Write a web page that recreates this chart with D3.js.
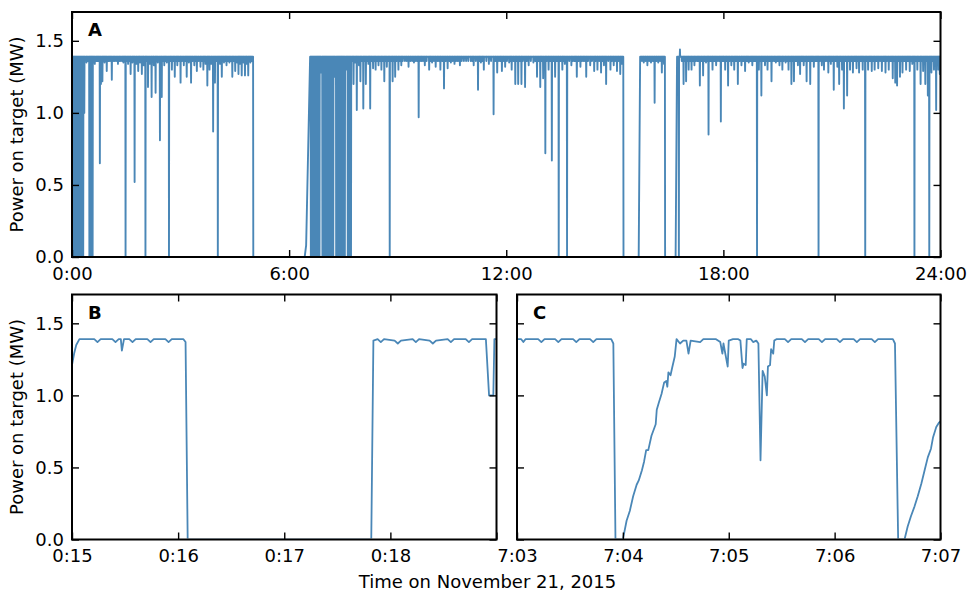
<!DOCTYPE html>
<html lang="en">
<head>
<meta charset="utf-8">
<title>Power on target</title>
<script src="https://cdn.jsdelivr.net/npm/d3@7"></script>
<style>
  body { margin: 0; background: #fff; }
  svg { display: block; font-family: "DejaVu Sans", sans-serif; }
</style>
</head>
<body>
<script>
// ---------- data ----------
// Panel A: whole day, time in hours. Power sits at levelA except for the dips
// and beam-off spans listed below.
var levelA = 1.39;
// [hour, lowest power (MW)]
var dipsA = [
  [0.01,0],[0.04,0],[0.07,0],[0.10,0],[0.13,0],[0.16,0],[0.19,0],[0.22,0],[0.25,0],[0.28,0],[0.31,0],
  [0.34,1.00],[0.40,1.35],[0.48,0],[0.51,0],[0.54,0],[0.57,0],[0.63,1.34],[0.70,1.36],[0.77,0.65],
  [0.80,1.20],[0.84,1.22],[0.90,1.35],[0.96,1.29],[1.03,1.36],[1.10,1.23],[1.18,1.36],[1.27,1.34],
  [1.35,1.36],[1.42,1.35],[1.48,0],[1.55,1.34],[1.62,1.27],[1.67,1.35],[1.73,0.52],[1.78,1.34],
  [1.83,1.29],[1.88,1.35],[1.93,1.27],[1.98,1.33],[2.03,0],[2.10,1.18],[2.15,1.34],[2.20,1.11],
  [2.26,1.33],[2.31,1.14],[2.37,1.35],[2.43,0.81],[2.48,1.11],[2.55,1.33],[2.62,1.35],[2.68,0],
  [2.76,1.30],[2.84,1.25],[2.91,1.33],[3.00,1.21],[3.09,1.33],[3.17,1.25],[3.23,1.35],[3.29,1.21],
  [3.38,1.33],[3.45,1.29],[3.55,1.32],[3.63,1.30],[3.69,1.34],[3.74,1.19],[3.80,1.30],[3.85,1.34],
  [3.90,0.87],[3.95,1.21],[4.03,0],[4.09,1.34],[4.14,1.25],[4.20,1.35],[4.27,1.33],[4.35,1.35],
  [4.43,1.25],[4.51,1.29],[4.56,1.35],[4.60,1.27],[4.65,1.34],[4.69,1.26],[4.74,1.35],[4.78,1.26],
  [4.83,1.34],[4.87,1.26],[4.93,1.35],[4.97,1.36],
  // restart around 6:35, many trips
  [6.60,0],[6.63,0],[6.66,0],[6.69,0],[6.72,0],[6.75,0],[6.78,0],[6.81,0],[6.84,0],[6.87,1.28],
  [6.92,0],[6.95,0],[6.98,0],[7.01,0],[7.04,0],[7.07,0],[7.10,0],[7.13,0],[7.16,0],[7.19,0],[7.22,0],
  [7.26,1.25],[7.30,0],[7.33,0],[7.36,0],[7.39,0],[7.42,0],[7.45,0],[7.48,0],[7.51,0],[7.54,0],
  [7.58,1.30],[7.62,0],[7.65,0],[7.68,0],[7.71,0],
  [7.78,1.20],[7.82,1.35],[7.87,1.02],[7.93,1.33],[7.97,1.22],[8.05,1.03],[8.12,1.20],[8.19,1.34],
  [8.24,1.03],[8.32,1.31],[8.39,1.30],[8.47,1.33],[8.55,1.30],[8.63,1.22],[8.70,1.32],[8.78,0],
  [8.86,1.22],[8.93,1.25],[9.02,1.30],[9.10,1.33],[9.20,1.36],[9.30,1.32],[9.45,1.35],[9.58,0.97],
  [9.66,1.36],[9.75,1.33],[9.87,1.30],[9.95,1.35],[10.05,1.32],[10.18,1.30],[10.28,1.17],[10.38,1.31],
  [10.47,1.35],[10.57,1.34],[10.65,1.36],[10.72,1.33],[10.83,1.36],[10.95,1.36],[11.10,1.33],
  [11.22,1.16],[11.30,1.35],[11.38,1.30],[11.52,1.34],[11.65,0.99],[11.75,1.28],[11.88,1.29],
  [11.97,1.32],[12.08,1.35],[12.15,1.30],[12.25,1.20],[12.33,1.20],[12.42,1.20],[12.52,1.18],
  [12.62,1.33],[12.75,1.35],[12.85,1.25],[12.94,1.18],[13.02,1.24],[13.08,0.72],[13.17,1.30],
  [13.26,0.67],[13.35,1.25],[13.45,0],[13.55,1.30],[13.62,1.34],[13.68,0],[13.80,1.33],[13.88,1.36],
  [13.95,1.25],[14.05,1.32],[14.13,1.36],[14.21,1.25],[14.32,1.33],[14.43,1.29],[14.52,1.30],
  [14.62,1.28],[14.70,1.33],[14.76,1.20],[14.88,1.30],[14.97,1.33],[15.06,1.29],[15.15,1.27],[15.20,1.34],
  [15.80,1.35],[15.90,1.33],[16.00,1.35],[16.10,1.07],[16.20,1.35],[16.30,1.28],[16.36,1.34],
  [16.77,0],[16.80,1.44],
  [16.90,1.20],[16.97,1.22],[17.04,1.30],[17.12,1.30],[17.20,1.33],[17.28,1.36],[17.35,1.19],
  [17.44,1.26],[17.52,1.35],[17.59,0.85],[17.70,1.30],[17.80,1.33],[17.93,0.94],[17.99,1.36],
  [18.05,1.30],[18.13,1.19],[18.22,1.33],[18.30,1.30],[18.40,1.20],[18.50,1.33],[18.60,1.29],
  [18.70,1.35],[18.80,1.33],[18.87,1.36],[18.93,0],[18.98,1.30],[19.05,1.12],[19.15,1.33],[19.22,1.30],
  [19.33,1.22],[19.45,1.35],[19.55,1.33],[19.63,1.30],[19.72,1.35],[19.80,1.30],[19.88,1.20],
  [19.95,1.22],[20.06,1.33],[20.12,1.27],[20.22,1.33],[20.30,1.22],[20.40,1.20],[20.50,1.32],
  [20.57,1.36],[20.63,0],[20.72,1.33],[20.78,1.30],[20.90,1.28],[20.97,1.34],[21.05,1.16],[21.15,1.32],
  [21.20,1.20],[21.28,1.30],[21.33,1.03],[21.42,1.12],[21.50,1.30],[21.58,1.28],[21.68,1.31],
  [21.75,1.28],[21.85,1.30],[21.92,0],[22.00,1.30],[22.10,1.29],[22.18,1.30],[22.28,1.31],
  [22.38,1.29],[22.48,1.28],[22.57,1.30],[22.68,1.24],[22.75,1.21],[22.80,1.19],[22.88,1.25],
  [22.95,1.28],[23.05,1.30],[23.15,1.29],[23.22,1.34],[23.28,0],[23.36,1.30],[23.45,1.20],
  [23.52,1.29],[23.58,1.20],[23.65,1.12],[23.69,0],[23.75,1.28],[23.82,1.30],[23.88,1.02],
  [23.94,1.30],[23.98,1.27]
];
// small ripples that make up the noisy band just under the running level
var rippleLevelA = 1.36;
var rippleHoursA = [
  0.44,0.60,0.67,0.73,0.87,0.93,1.00,1.07,1.14,1.22,1.31,1.39,1.45,1.52,1.58,1.70,1.86,1.96,2.06,
  2.24,2.34,2.52,2.58,2.72,2.80,2.88,2.95,3.04,3.13,3.20,3.26,3.33,3.42,3.50,3.59,3.66,3.77,3.98,
  4.06,4.17,4.24,4.31,4.39,4.47,4.63,4.72,4.81,4.90,
  7.75,7.85,7.90,8.00,8.09,8.15,8.22,8.28,8.36,8.43,8.51,8.59,8.67,8.74,8.82,8.90,8.97,9.06,9.14,
  9.25,9.35,9.40,9.50,9.54,9.62,9.70,9.80,9.91,10.00,10.10,10.14,10.23,10.33,10.43,10.52,10.61,
  10.69,10.77,10.89,11.02,11.06,11.16,11.26,11.34,11.45,11.58,11.70,11.80,11.84,11.92,12.02,12.12,
  12.20,12.29,12.37,12.46,12.57,12.68,12.80,12.90,12.98,13.12,13.21,13.30,13.40,13.50,13.59,13.74,
  13.84,13.91,14.00,14.09,14.17,14.26,14.37,14.47,14.57,14.66,14.73,14.82,14.92,15.01,15.10,
  15.75,15.85,15.95,16.05,16.15,16.25,16.33,
  16.85,16.93,17.00,17.08,17.16,17.24,17.31,17.39,17.48,17.56,17.63,17.66,17.74,17.77,17.85,17.89,
  17.96,18.01,18.09,18.17,18.26,18.34,18.37,18.45,18.54,18.57,18.64,18.67,18.74,18.77,18.84,18.90,
  19.01,19.09,19.12,19.18,19.26,19.29,19.37,19.41,19.49,19.52,19.59,19.67,19.76,19.84,19.92,20.00,
  20.03,20.09,20.16,20.19,20.26,20.34,20.37,20.44,20.47,20.54,20.60,20.67,20.75,20.82,20.86,20.93,
  21.00,21.09,21.12,21.24,21.37,21.46,21.54,21.62,21.65,21.72,21.79,21.82,21.88,21.96,22.04,22.07,
  22.14,22.22,22.25,22.33,22.42,22.45,22.52,22.61,22.64,22.71,22.84,22.91,22.99,23.02,23.09,23.12,
  23.18,23.25,23.32,23.40,23.48,23.55,23.62,23.72,23.79,23.85,23.91,23.96
];
// beam-off spans [start hour, end hour]
var offA = [[5.01, 6.43], [15.24, 15.66], [16.39, 16.68]];
// points on the way back up after a beam-off span
var riseA = [[6.47, 0.08], [6.58, 1.39], [15.70, 1.39], [16.72, 1.39]];

// Panel B: 0:15 - 0:19, minutes past 0:00
var timeB = [15.00,15.02,15.04,15.07,15.21,15.24,15.27,15.38,15.41,15.44,15.46,15.47,15.49,15.54,15.57,
  15.60,15.71,15.74,15.77,15.88,15.91,15.94,16.05,16.07,16.09,17.82,17.84,17.88,17.91,17.94,18.04,
  18.07,18.10,18.21,18.24,18.27,18.37,18.40,18.43,18.54,18.57,18.60,18.71,18.74,18.77,18.90,18.93,
  18.97,18.98,19.00];
var powerB = [1.21,1.29,1.35,1.39,1.39,1.37,1.39,1.39,1.37,1.39,1.39,1.31,1.39,1.39,1.37,
  1.39,1.39,1.37,1.39,1.39,1.37,1.39,1.39,1.37,0,0,1.38,1.39,1.37,1.39,1.38,
  1.36,1.38,1.39,1.37,1.39,1.38,1.36,1.38,1.39,1.37,1.39,1.39,1.37,1.39,1.39,1.00,
  1.00,1.39,1.39];

// Panel C: 7:03 - 7:07, minutes past 7:00
var timeC = [3.00,3.04,3.06,3.08,3.20,3.23,3.26,3.36,3.39,3.42,3.53,3.56,3.59,3.69,3.72,3.75,3.89,3.91,
  3.93,4.00,4.035,4.066,4.097,4.13,4.15,4.18,4.20,4.22,4.24,4.27,4.31,4.32,4.34,4.365,4.39,4.41,4.42,
  4.43,4.45,4.465,4.49,4.507,4.54,4.57,4.60,4.62,4.64,4.73,4.76,4.88,4.92,4.94,4.95,4.99,5.00,5.04,
  5.09,5.11,5.13,5.14,5.16,5.17,5.21,5.23,5.26,5.28,5.30,5.32,5.34,5.36,5.37,5.39,5.40,5.42,5.43,
  5.45,5.53,5.56,5.59,5.69,5.72,5.75,5.85,5.88,5.91,6.02,6.05,6.08,6.18,6.21,6.24,6.35,6.38,6.41,
  6.55,6.57,6.60,6.66,6.69,6.72,6.755,6.785,6.82,6.85,6.88,6.91,6.93,6.96,6.985,7.00];
var powerC = [1.39,1.39,1.37,1.39,1.39,1.37,1.39,1.39,1.37,1.39,1.39,1.37,1.39,1.39,1.37,1.39,1.39,1.36,
  0,0,0.13,0.20,0.30,0.38,0.41,0.48,0.54,0.62,0.62,0.72,0.80,0.90,0.95,1.01,1.09,1.10,1.06,
  1.16,1.14,1.19,1.27,1.39,1.36,1.38,1.38,1.29,1.38,1.37,1.39,1.39,1.37,1.29,1.36,1.20,1.38,1.39,
  1.39,1.38,1.19,1.22,1.21,1.39,1.39,1.37,1.38,1.36,0.55,1.17,1.13,1.00,1.20,1.21,1.32,1.29,1.38,
  1.39,1.39,1.37,1.39,1.39,1.37,1.39,1.39,1.37,1.39,1.39,1.37,1.39,1.39,1.37,1.39,1.39,1.37,1.39,
  1.39,1.36,0,0,0.09,0.16,0.23,0.30,0.39,0.48,0.57,0.63,0.71,0.78,0.81,0.82];

var yTicks = [0, 0.5, 1.0, 1.5];
var yTickLabels = ["0.0", "0.5", "1.0", "1.5"];
var xTicksA = [0, 6, 12, 18, 24];
var xLabelsA = ["0:00", "6:00", "12:00", "18:00", "24:00"];
var xTicksB = [15, 16, 17, 18, 19];
var xLabelsB = ["0:15", "0:16", "0:17", "0:18", ""];
var xTicksC = [3, 4, 5, 6, 7];
var xLabelsC = ["7:03", "7:04", "7:05", "7:06", "7:07"];

// ---------- build panel A trace from level, dips and off spans ----------
var pointsA = [];
var eps = 0.006;
var allDipsA = dipsA.concat(rippleHoursA.map(function(h) { return [h, rippleLevelA]; }));
allDipsA.forEach(function(d) {
  pointsA.push([d[0] - eps, levelA], d, [d[0] + eps, levelA]);
});
offA.forEach(function(o) {
  pointsA.push([o[0] - eps, levelA], [o[0], 0], [o[1], 0]);
});
riseA.forEach(function(r) { pointsA.push(r); });
pointsA.push([0, levelA], [24, levelA]);
pointsA.sort(function(a, b) { return a[0] - b[0]; });

var pointsB = timeB.map(function(t, i) { return [t, powerB[i]]; });
var pointsC = timeC.map(function(t, i) { return [t, powerC[i]]; });

// ---------- drawing ----------
var lineColor = "#4a87b7";
var fontSize = 18;
var svg = d3.select("body").append("svg").attr("width", 975).attr("height", 600);

function drawPanel(p) {
  var x = d3.scaleLinear().domain(p.xDomain).range([p.left, p.right]);
  var y = d3.scaleLinear().domain([0, 1.7]).range([p.bottom, p.top]);

  // clip a hair above the bottom spine so the zero stretches hide under it
  svg.append("clipPath").attr("id", "clip" + p.name)
    .append("rect")
    .attr("x", p.left).attr("y", p.top)
    .attr("width", p.right - p.left).attr("height", p.bottom - p.top - 1);

  svg.append("path").datum(p.points)
    .attr("clip-path", "url(#clip" + p.name + ")")
    .attr("fill", "none")
    .attr("stroke", lineColor)
    .attr("stroke-width", p.lineWidth)
    .attr("stroke-linejoin", "round")
    .attr("d", d3.line().x(function(d) { return x(d[0]); }).y(function(d) { return y(d[1]); }));

  // ticks point inwards on all four sides
  var axes = [
    { gen: d3.axisBottom(x).tickValues(p.xTicks).tickFormat(function(d, i) { return p.xLabels[i]; }).tickPadding(10), t: "translate(0," + p.bottom + ")" },
    { gen: d3.axisTop(x).tickValues(p.xTicks).tickFormat(""), t: "translate(0," + p.top + ")" },
    { gen: d3.axisLeft(y).tickValues(yTicks).tickFormat(function(d, i) { return p.yLabels ? yTickLabels[i] : ""; }).tickPadding(8), t: "translate(" + p.left + ",0)" },
    { gen: d3.axisRight(y).tickValues(yTicks).tickFormat(""), t: "translate(" + p.right + ",0)" }
  ];
  axes.forEach(function(a) {
    var g = svg.append("g").attr("transform", a.t)
      .call(a.gen.tickSize(-7).tickSizeOuter(0));
    g.select(".domain").remove();
    g.attr("font-size", fontSize).attr("font-family", "DejaVu Sans, sans-serif");
    g.selectAll(".tick line").attr("stroke", "#000").attr("stroke-width", 1.4);
    g.selectAll(".tick text").attr("fill", "#000");
  });

  svg.append("rect")
    .attr("x", p.left).attr("y", p.top)
    .attr("width", p.right - p.left).attr("height", p.bottom - p.top)
    .attr("fill", "none").attr("stroke", "#000").attr("stroke-width", 2);

  svg.append("text")
    .attr("x", p.left + 16).attr("y", p.top + 24)
    .attr("font-size", fontSize).attr("font-weight", "bold")
    .text(p.name);

  if (p.yLabels) {
    svg.append("text")
      .attr("transform", "translate(23," + ((p.top + p.bottom) / 2) + ") rotate(-90)")
      .attr("text-anchor", "middle")
      .attr("font-size", fontSize)
      .text("Power on target (MW)");
  }
}

drawPanel({ name: "A", points: pointsA, xDomain: [0, 24], xTicks: xTicksA, xLabels: xLabelsA,
  left: 72, right: 940.5, top: 12, bottom: 257, yLabels: true, lineWidth: 1.9 });
drawPanel({ name: "B", points: pointsB, xDomain: [15, 19], xTicks: xTicksB, xLabels: xLabelsB,
  left: 72, right: 496.5, top: 294.5, bottom: 539.5, yLabels: true, lineWidth: 1.8 });
drawPanel({ name: "C", points: pointsC, xDomain: [3, 7], xTicks: xTicksC, xLabels: xLabelsC,
  left: 517, right: 940.5, top: 294.5, bottom: 539.5, yLabels: false, lineWidth: 1.8 });

svg.append("text")
  .attr("x", 487.5).attr("y", 588)
  .attr("text-anchor", "middle")
  .attr("font-size", fontSize)
  .text("Time on November 21, 2015");
</script>
</body>
</html>
